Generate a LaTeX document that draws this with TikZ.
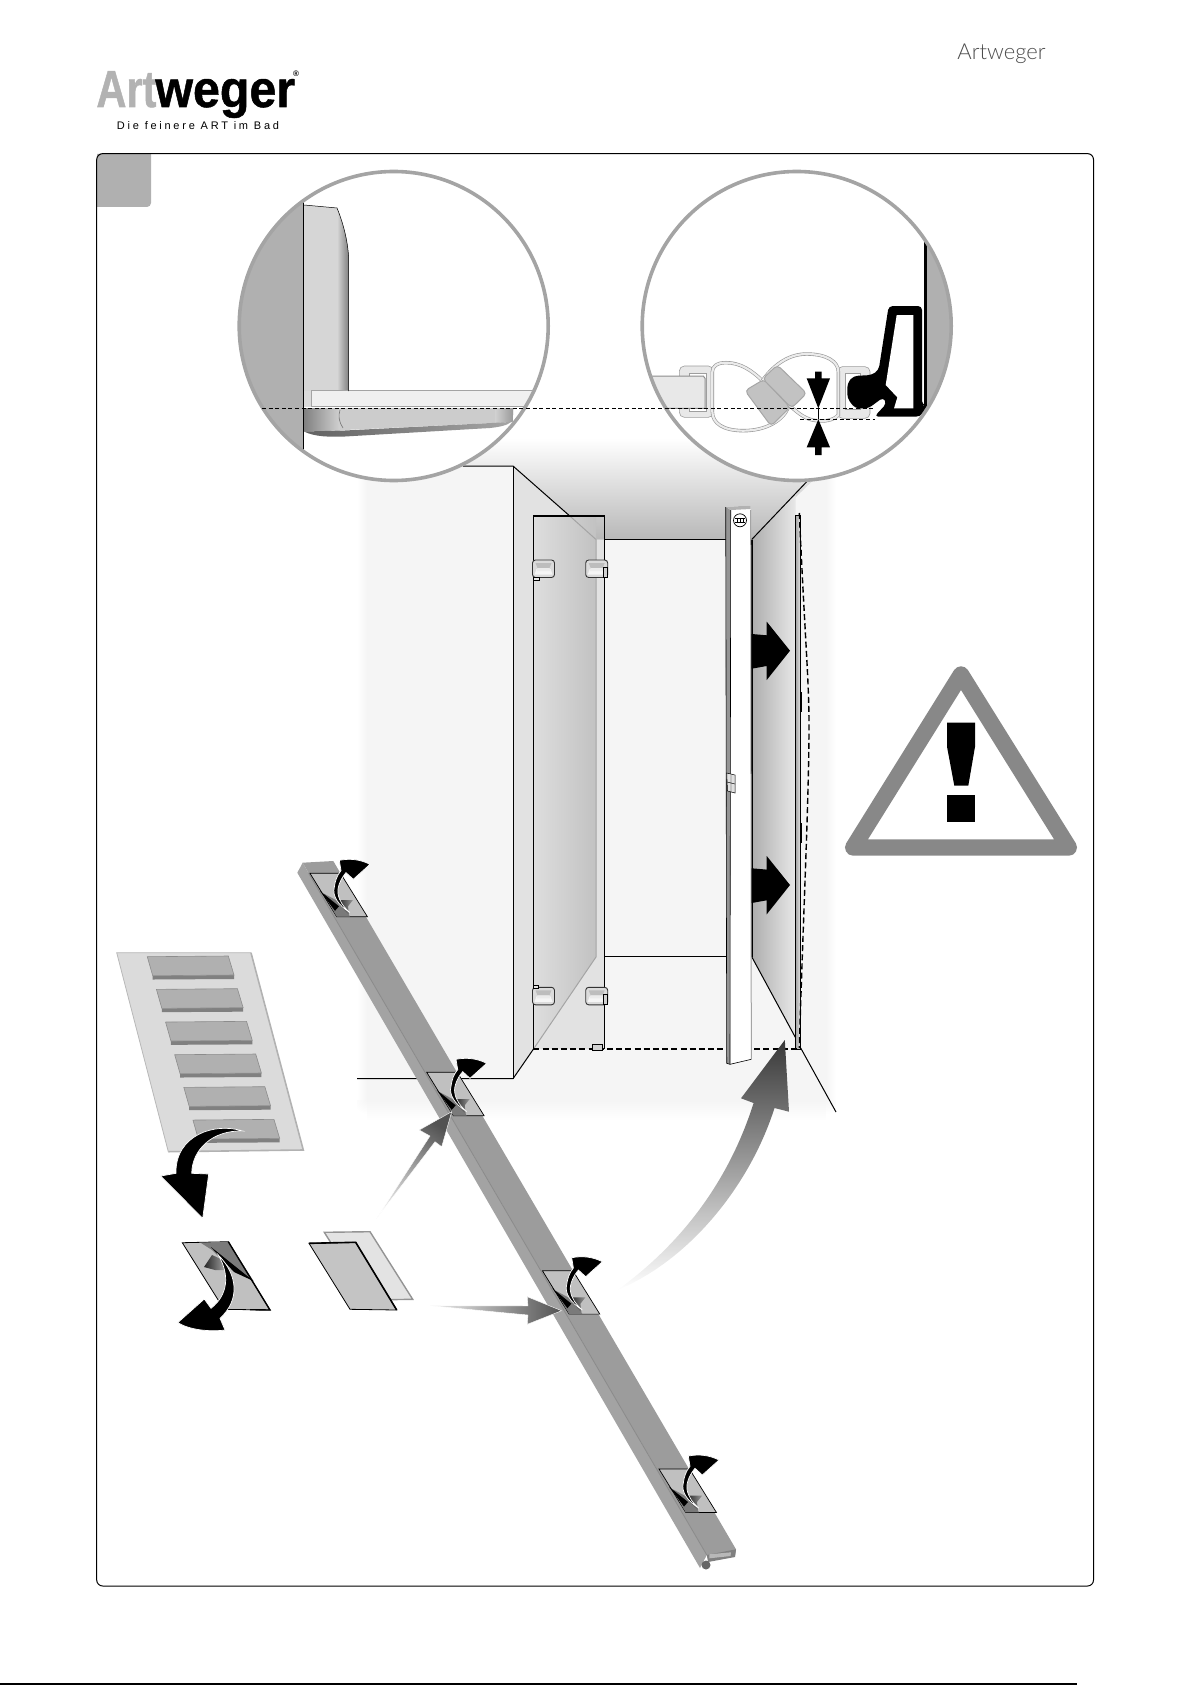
\documentclass[tikz,border=0pt]{standalone}
\usepackage{fontspec}
\setmainfont{Liberation Sans}
\newfontfamily\thinfont{Lato Light}
\newfontfamily\tagfont[LetterSpace=25]{Liberation Sans}
\definecolor{wallgrey}{HTML}{F5F5F5}
\definecolor{sidegrey}{HTML}{E2E2E2}
\definecolor{lensgrey}{HTML}{A4A4A4}
\definecolor{tabgrey}{HTML}{B0B0B0}
\definecolor{padgrey}{HTML}{C0C0C0}
\definecolor{bargrey}{HTML}{9C9C9C}
\definecolor{warngrey}{HTML}{888888}
\tikzset{
  edgeline/.style={draw=black,line width=.5pt},
  greyline/.style={draw=lensgrey,line width=.5pt},
  floordash/.style={draw=black,line width=.7pt,dash pattern=on 3pt off 1.6pt},
  lensdash/.style={draw=black,line width=.4pt,dash pattern=on 2pt off 1.3pt},
  lensring/.style={draw=lensgrey,line width=1.8pt,fill=white},
  sealrim/.style={draw=black!42,line width=.3pt,double=black!8,double distance=1.1pt,fill=white},
  curlarrow/.style={fill=black,draw=white,line width=.35pt},
  fadearrow/.style={draw=white,line width=.2pt}
}
\begin{document}
\begin{tikzpicture}[x=.5pt,y=-.5pt]
  \useasboundingbox (0,0) rectangle (1192,1685);
  % room
  \fill[wallgrey] (367,460) rectangle (826,1100);
  \shade[left color=white,right color=wallgrey] (357,460) rectangle (367,1100);
  \shade[left color=wallgrey,right color=white] (826,460) rectangle (836,1100);
  \shade[top color=wallgrey,bottom color=white] (367,1100) rectangle (826,1121);
  \begin{scope}
    \clip (357,1100) rectangle (367,1121);
    \shade[inner color=wallgrey,outer color=white] (367,1100) circle (14);
  \end{scope}
  \begin{scope}
    \clip (826,1100) rectangle (836,1121);
    \shade[inner color=wallgrey,outer color=white] (826,1100) circle (14);
  \end{scope}
  \shade[top color=white,bottom color=black!28] (440,438) -- (857,438) -- (751.7,539.5) -- (440,539.5) -- cycle;
  \fill[wallgrey] (440,466) rectangle (513,600);
  \fill[wallgrey] (604,539.5) rectangle (726,1049);
  % side wall and door glass
  \fill[sidegrey] (513,466) -- (596,539.5) -- (596,957) -- (533.5,1049) -- (513,1078.7) -- cycle;
  \shade[left color=black!13,right color=black!24] (533.3,516) -- (596,516) -- (596,957) -- (533.3,1049) -- cycle;
  \fill[sidegrey] (596,539.5) rectangle (604.3,957);
  \fill[sidegrey] (533.5,1049) -- (596,957) -- (604.3,957) -- (604.3,1049) -- cycle;
  \draw[greyline] (569.8,516) -- (596,539.5) -- (596,957) -- (533.5,1049);
  \draw[edgeline] (357,1078.7) -- (513,1078.7) -- (533.5,1049);
  \draw[edgeline] (463,466) -- (513,466) -- (569.8,516);
  \draw[edgeline] (513,466) -- (513,1078.7);
  \draw[edgeline,line width=.6pt] (533.3,1049) -- (533.3,516) -- (604.3,516) -- (604.3,1049);
  \draw[edgeline] (604.3,539.5) -- (726,539.5);
  \draw[edgeline] (604.3,956.5) -- (726,956.5);
  % right wall
  \shade[left color=black!32,middle color=black!15,right color=black!9] (751.7,539.5) -- (795.7,493.5) -- (795.7,1038) -- (751.7,956.7) -- cycle;
  \draw[edgeline] (751.7,539.5) -- (806.7,481.7);
  \draw[edgeline] (751.7,956.7) -- (795.7,1038);
  \draw[edgeline,line width=.8pt] (751.7,539.5) -- (751.7,956.7);
  \draw[edgeline] (800.7,1048) -- (836,1112);
  \shade[left color=black!35,right color=black!8] (795.7,515) -- (800.7,515) -- (800.7,1049) -- (795.7,1049) -- cycle;
  \draw[edgeline,line width=.35pt] (795.7,515) rectangle (800.7,1049);
  \draw[edgeline,line width=.9pt] (801.5,692) -- (801.5,712);
  \draw[edgeline,line width=.9pt] (801.5,823) -- (801.5,843);
  \draw[floordash] (799.3,513) .. controls (805,640) and (809,680) .. (809,725) .. controls (809,800) and (803,920) .. (799.3,1048);
  \draw[floordash] (533.3,1049) -- (798,1049);
  % magnet strip
  \fill[white] (725.7,507) -- (750.7,505.5) -- (751.3,1059.3) -- (730,1064.3) -- (726.7,1063.3) -- cycle;
  \fill[black!42] (725.7,507) -- (730.7,510) -- (730,1064.3) -- (726.7,1063.3) -- cycle;
  \fill[black!30] (725.7,507) -- (750.7,505.5) -- (750.7,509) -- (730.7,510) -- cycle;
  \draw[edgeline,line width=.3pt] (725.7,507) -- (726.7,1063.3) -- (730,1064.3) -- (751.3,1059.3);
  \draw[greyline] (750.7,510) -- (751.3,1059.3);
  \draw[edgeline,line width=.3pt] (730.7,510) -- (730,1064.3);
  \draw[edgeline,line width=.35pt] (740,520.3) circle (6.5);
  \draw[edgeline,line width=.3pt] (734.8,518.5) -- (745.2,518.5) (734.8,522) -- (745.2,522) (737,518.5) -- (737,522) (740,518.5) -- (740,522) (743,518.5) -- (743,522);
  \draw[edgeline,line width=.25pt,fill=black!12] (726.7,773) -- (735,775) -- (735,793) -- (727.5,791) -- cycle;
  \draw[edgeline,line width=.2pt] (731,774) -- (731,792) (727,782) -- (735,784);
  % wall pressing arrows
  \foreach \shifty in {0,234.3}{
    \fill[black,yshift=-\shifty*.5pt] (751.7,634) -- (766.7,635.3) -- (766.7,621.7) -- (790,650.7) -- (766.7,680) -- (766.7,666) -- (751.7,668.7) -- cycle;
  }
  % door clips
  \foreach \clipx/\clipy in {532.5/560,585.7/560,532.5/987.3,585.7/987.3}{
    \begin{scope}[shift={(\clipx,\clipy)}]
      \draw[draw=black!80,line width=.45pt,fill=black!14,rounded corners=1.5pt] (0,0) rectangle (22,17.5);
      \fill[black!4] (4,9) -- (18,9) -- (20,14.5) -- (2,14.5) -- cycle;
      \fill[black!26] (3,3) -- (19,3) -- (17,8) -- (5,8) -- cycle;
      \fill[black!8] (5,8) -- (17,8) -- (18,11) -- (4,11) -- cycle;
    \end{scope}
  }
  \draw[edgeline,line width=.3pt,fill=black!18] (603.5,567) rectangle (607.7,577);
  \draw[edgeline,line width=.3pt,fill=black!18] (603.5,994.5) rectangle (607.7,1004.3);
  \draw[edgeline,line width=.3pt,fill=black!10] (533,577.7) rectangle (539,580.5);
  \draw[edgeline,line width=.3pt,fill=black!10] (533,985) rectangle (538,988);
  \draw[edgeline,line width=.3pt,fill=black!18] (592.5,1044.5) rectangle (602.5,1050.5);
  % left lens
  \coordinate (lensL) at (393.7,326);
  \coordinate (lensR) at (796.7,326);
  \fill[white] (lensL) circle (154.5);
  \begin{scope}
    \clip (lensL) circle (154.5);
    \fill[tabgrey] (230,170) rectangle (303.5,482);
    \fill[black!16] (304,205) -- (337,208) .. controls (344,225) and (348.7,245) .. (348.7,262) -- (348.7,391) -- (304,391) -- cycle;
    \shade[left color=black!16,right color=black!50] (337,208) .. controls (344,225) and (348.7,245) .. (348.7,262) -- (348.7,391) -- (337,391) -- cycle;
    \fill[black!14] (303.5,391) rectangle (311.7,407);
    \draw[greyline,fill=black!6,line width=.4pt] (311.7,390.5) rectangle (560,406.5);
    \fill[black!20] (303.5,408) -- (513.3,408) -- (512.7,422) -- (345,430) -- (304,431.5) -- cycle;
    \shade[left color=black!50,right color=black!18] (303.5,408) -- (340,408) -- (340,430.5) -- (304,431.5) -- cycle;
    \shade[left color=black!18,right color=black!40] (495,408) -- (513.3,408) -- (512.7,422) -- (495,423) -- cycle;
    \draw[black!55,line width=.3pt] (340,410) .. controls (338,416) and (339,422) .. (343,428);
    \shade[left color=black!62,right color=black!35] (304,431.5) .. controls (315,437) and (330,437) .. (345,436.5) -- (490,428) .. controls (500,427) and (508,425) .. (511,422) -- (345,430.5) -- cycle;
    \draw[edgeline,line width=.5pt] (303.3,170) -- (303.3,482);
    \draw[edgeline,line width=.25pt] (304,205) -- (337,208) .. controls (344,225) and (348.7,245) .. (348.7,262) -- (348.7,391);
  \end{scope}
  \draw[lensring,fill=none] (lensL) circle (154.5);
  % right lens
  \fill[white] (lensR) circle (154.5);
  \begin{scope}
    \clip (lensR) circle (154.5);
    \fill[tabgrey] (926,170) rectangle (960,482);
    \begin{scope}[shift={(620,170)},x=.16667pt,y=-.16667pt]
      % seals
      \draw[draw=black!38,line width=.3pt,fill=black!9,rounded corners=2.5pt] (178,588) -- (280,588) -- (280,742) -- (178,742) -- cycle;
      \draw[draw=black!38,line width=.3pt,fill=black!9,rounded corners=2.5pt] (652,590) -- (750,590) -- (750,745) -- (652,745) -- cycle;
      \draw[draw=black!38,line width=.25pt,fill=white] (208,610) rectangle (258,725);
      \draw[draw=black!38,line width=.25pt,fill=white] (675,610) rectangle (722,718);
      \draw[draw=black!45,line width=.5pt,fill=black!9] (60,618) -- (250,618) -- (255,625) -- (255,715) -- (60,715) -- cycle;
      \draw[sealrim] (277,605) .. controls (277,590) and (290,578) .. (318,578) .. controls (360,578) and (395,600) .. (430,635) -- (505,712) .. controls (490,750) and (440,782) .. (370,782) .. controls (310,782) and (277,760) .. (277,725) -- cycle;
      \draw[sealrim] (655,735) .. controls (640,752) and (610,755) .. (590,752) .. controls (560,750) and (535,730) .. (515,712) -- (430,628) .. controls (465,580) and (510,552) .. (560,552) .. controls (620,552) and (655,575) .. (655,605) -- cycle;
      \draw[draw=black!35,line width=.5pt,fill=black!24,rounded corners=2pt] (432,628) -- (510,712) -- (453,768) -- (375,662) -- cycle;
      \draw[draw=black!35,line width=.5pt,fill=black!24,rounded corners=2pt] (472,585) -- (560,670) -- (515,714) -- (428,626) -- cycle;
      % wall profile
      \fill[black,rounded corners=2pt] (806,408) -- (906,408) -- (906,705) -- (918,705) -- (918,718) -- (900,740) -- (763,740) -- (800,700) -- (790,682) -- (745,715) -- (705,715) -- (682,685) -- (682,640) -- (700,618) -- (755,615) -- (776,600) -- cycle;
      \fill[white] (830,435) -- (880,435) -- (880,715) -- (822,715) -- (832,682) -- (797,645) -- cycle;
      \draw[black,line width=1.2pt] (916,215) -- (916,720);
      % gap marks
      \fill[black] (585,605) -- (605,605) -- (605,625) -- (630,625) -- (595,715) -- (560,625) -- (585,625) -- cycle;
      \fill[black] (585,855) -- (605,855) -- (605,832) -- (630,832) -- (595,748) -- (560,832) -- (585,832) -- cycle;
      \draw[black,line width=.3pt] (595,715) -- (595,748);
      \draw[lensdash] (540,748) -- (765,748);
    \end{scope}
  \end{scope}
  \draw[lensring,fill=none] (lensR) circle (154.5);
  \draw[lensdash] (262,408) -- (874,408);
  % mounting bar
  \fill[bargrey] (302.7,862.7) -- (333.3,861) -- (736,1549.3) -- (735,1556) -- (706.8,1555) -- (308.4,872.7) -- cycle;
  \fill[black!36] (297.3,872.7) -- (302.7,862.7) -- (308.4,872.7) -- (706.8,1555) -- (700,1568) -- cycle;
  \draw[black!46,line width=.4pt] (308.4,872.7) -- (706.8,1555);
  \fill[black!50] (706.8,1555) -- (736,1549.3) -- (735,1557) -- (708,1562) -- cycle;
  \fill[black!28] (709.4,1554.3) -- (731,1552.3) -- (730.5,1556) -- (709.4,1558.3) -- cycle;
  \fill[black!60] (706,1565) circle (4.5);
  % tape pads on the bar
  \foreach \padx/\pady in {310/873.3,426.7/1072.3,542.4/1270.7,659/1469}{
    \begin{scope}[shift={(\padx,\pady)}]
      \draw[edgeline,line width=.35pt,fill=padgrey] (0,0) -- (30.5,0) -- (57.4,43.4) -- (26.7,43.4) -- cycle;
      \fill[black!52] (13.3,20) -- (26.7,43.4) -- (40,43.4) -- (32,30) -- cycle;
      \fill[black] (10,17.7) -- (29,33) -- (25,37.5) -- cycle;
      \shade[left color=black!85,right color=black!40] (28.3,26.7) -- (43,26.7) -- (38,33) -- (39,41.7) -- (30,31.7) -- cycle;
      \draw[curlarrow] (40,39.3) .. controls (28,32) and (22,22) .. (24.3,14) .. controls (25,8) and (27,2) .. (31,-2.7) -- (29.3,-13) .. controls (40,-15) and (50,-14) .. (60,-9) -- (43.3,6) -- (36,-.7) .. controls (31,5) and (27,14) .. (28,20) .. controls (29,28) and (34,34) .. (40,39.3) -- cycle;
    \end{scope}
  }
  % pad sheet
  \fill[black!14] (116.7,952.7) -- (251,952.7) -- (303.3,1150) -- (168.3,1151.7) -- cycle;
  \draw[draw=black!28,line width=.4pt] (168.3,1151.7) -- (116.7,952.7) -- (251,952.7);
  \draw[draw=black!30,line width=.8pt] (251,952.7) -- (303.3,1150) -- (168.3,1151.7);
  \foreach \rowno in {0,...,5}{
    \begin{scope}[shift={(\rowno*9.13,\rowno*32.67)}]
      \fill[black!50] (152.7,975.7) -- (234,975) -- (234,979) -- (152.7,979.5) -- cycle;
      \draw[draw=black!45,line width=.3pt,fill=tabgrey] (147.3,956.7) -- (228.3,956) -- (234,975) -- (152.7,975.7) -- cycle;
    \end{scope}
  }
  \draw[curlarrow] (242.7,1131) .. controls (215,1122) and (175,1135) .. (176,1173.3) -- (160.7,1176) -- (202.7,1218.3) -- (208.7,1174) -- (191.7,1173.3) .. controls (192,1150) and (212,1130) .. (242.7,1131) -- cycle;
  % peeled pad
  \draw[edgeline,line width=.4pt,fill=padgrey] (182.3,1242.7) -- (228.3,1241.7) -- (270,1310) -- (224,1309.3) -- cycle;
  \fill[black!52] (201,1243) -- (228.3,1241.7) -- (253.5,1281) -- (233,1270) -- (212,1250) -- cycle;
  \fill[black] (211,1247) -- (253.5,1281) -- (234,1272) -- cycle;
  \shade[left color=black!85,right color=black!35] (204,1267) -- (212,1255) -- (223,1260) -- (226,1270) -- (215,1270) -- cycle;
  \draw[edgeline,line width=.7pt] (228.3,1241.7) -- (270,1310) -- (250,1309.7);
  \draw[curlarrow] (218.3,1255) .. controls (238,1275) and (240,1300) .. (220,1318.3) -- (225,1330) .. controls (210,1332) and (190,1330) .. (177.7,1322.7) -- (204.3,1299) -- (211,1308.3) .. controls (228,1295) and (230,1275) .. (218.3,1255) -- cycle;
  % loose pad pair
  \draw[draw=black!42,line width=.7pt,fill=black!11] (324.3,1232.3) -- (370,1231.7) -- (412.7,1299.3) -- (367,1300) -- cycle;
  \draw[edgeline,line width=.4pt,fill=black!23] (309,1243.3) -- (355.7,1242.3) -- (396.7,1310) -- (350,1309.3) -- cycle;
  \draw[edgeline,line width=.8pt] (309,1243.3) -- (355.7,1242.3) -- (396.7,1310);
  % fitting arrows
  \shade[top color=black!68,bottom color=black!10,shading angle=-35,fadearrow] (376.7,1218.3) -- (430,1136) -- (419.3,1130) -- (451.7,1111.7) -- (441.7,1146.7) -- (435,1141.7) -- cycle;
  \shade[left color=black!6,right color=black!68,fadearrow] (430,1305.7) -- (528,1306) -- (527.2,1296.7) -- (561.6,1310.7) -- (527.2,1324.3) -- (528,1315) -- cycle;
  \shade[top color=black!78,middle color=black!45,bottom color=white] (617.4,1290) .. controls (673,1250) and (726,1190) .. (753.6,1103) -- (741,1098.3) -- (784.8,1040) -- (789,1111.7) -- (774.5,1108) .. controls (750,1185) and (690,1260) .. (617.4,1290) -- cycle;
  % warning sign
  \draw[warngrey,line width=8.2pt,line join=round] (961,674.5) -- (1068.8,847.5) -- (853.2,847.5) -- cycle;
  \fill[black] (947,722.7) -- (975,722.7) -- (975,746.7) -- (968.3,785.7) -- (954.3,785.7) -- (947,746.7) -- cycle;
  \fill[black] (947,795) rectangle (975,821.7);
  % frame
  \fill[tabgrey] (97,154) -- (151,154) [rounded corners=2pt] -- (151,207) [sharp corners] -- (97,207) -- cycle;
  \draw[edgeline,rounded corners=3pt] (96.7,153.6) rectangle (1093.5,1586);
  % logo and heading
  \node[anchor=base west,inner sep=0pt,text=black!30,font=\fontsize{26}{26}\selectfont\bfseries\addfontfeatures{FakeBold=1}] (logoart) at (96,107) {\scalebox{.8}[1]{Art}};
  \node[anchor=base west,inner sep=0pt,text=black,font=\fontsize{26}{26}\selectfont\bfseries\addfontfeatures{FakeBold=1}] (logoweger) at (155,107) {\scalebox{.93}[1]{weger}};
  \node[anchor=center,inner sep=0pt,font=\fontsize{4}{4}\selectfont\bfseries] (logomark) at (296,74) {®};
  \node[inner sep=0pt,font=\tagfont\fontsize{5.5}{6}\selectfont] (logotag) at (198,126) {Die feinere ART im Bad};
  \node[anchor=base west,inner sep=0pt,text=black!70,font=\thinfont\fontsize{11}{11}\selectfont] (pagehead) at (957,60) {Artweger};
  \draw[black,line width=.7pt] (0,1684) -- (1077,1684);
\end{tikzpicture}
\end{document}
